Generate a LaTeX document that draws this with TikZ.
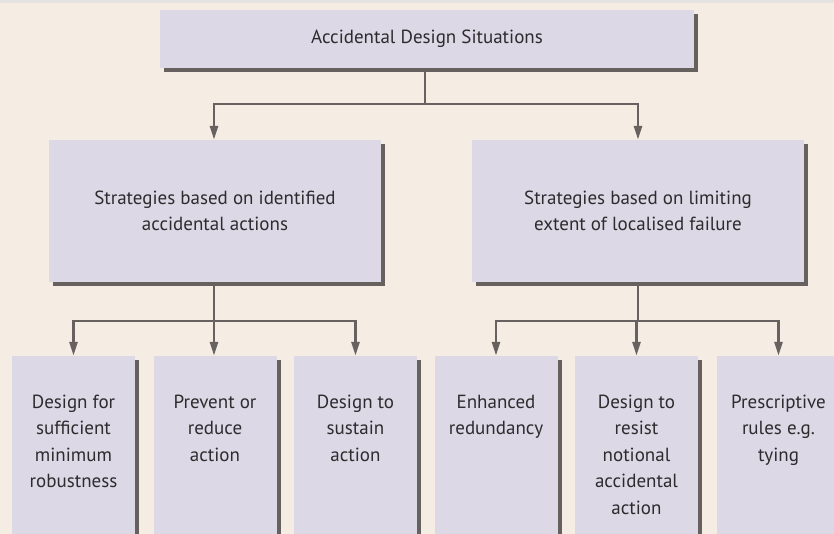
\documentclass[tikz,border=0pt]{standalone}
\usepackage{fontspec}
\setmainfont{PT Sans}
\usepackage{tikz}
\usetikzlibrary{positioning,arrows.meta,shadows}
\definecolor{bgbeige}{HTML}{F5EDE4}
\definecolor{topgrey}{HTML}{E4E3E2}
\definecolor{boxlilac}{HTML}{DCD8E5}
\definecolor{shadowgrey}{HTML}{66615F}
\definecolor{linegrey}{HTML}{67625F}
\definecolor{textgrey}{HTML}{2E2B2E}

\begin{document}
\begin{tikzpicture}[x=1pt,y=-1pt,
  box/.style={fill=boxlilac, draw=none, text=textgrey, inner sep=0pt,
    drop shadow={shadow xshift=4pt, shadow yshift=-4pt, fill=shadowgrey, opacity=1}},
  topbox/.style={box, minimum width=534pt, minimum height=58pt},
  midbox/.style={box, minimum width=332pt, minimum height=142pt, align=center},
  lowbox/.style={box, minimum width=123pt, minimum height=210pt},
  lowtext/.style={align=center, text=textgrey, anchor=north, inner sep=0pt},
  link/.style={draw=linegrey, line width=2.6pt},
  arrow/.style={link, -{Triangle[length=14pt,width=8pt]}},
  font=\fontsize{19}{26.5}\selectfont]
\useasboundingbox (0,0) rectangle (834,534);
\clip (0,0) rectangle (834,534);
\fill[bgbeige] (0,0) rectangle (834,534);
\fill[topgrey] (0,0) rectangle (834,3);

% boxes
\node[topbox] (node_top) at (427,39) {Accidental Design Situations};
\node[midbox] (node_left) at (215,211) {Strategies based on identified\\ accidental actions};
\node[midbox] (node_right) at (638,211) {Strategies based on limiting\\ extent of localised failure};

\node[lowbox] (low_a) at (73.5,461) {};
\node[lowbox] (low_b) at (215,461) {};
\node[lowbox] (low_c) at (355.5,461) {};
\node[lowbox] (low_d) at (496,461) {};
\node[lowbox] (low_e) at (636.5,461) {};
\node[lowbox] (low_f) at (778.5,461) {};

\node[lowtext] at ([yshift=-39pt]low_a.north) {Design for\\ sufficient\\ minimum\\ robustness};
\node[lowtext] at ([yshift=-39pt]low_b.north) {Prevent or\\ reduce\\ action};
\node[lowtext] at ([yshift=-39pt]low_c.north) {Design to\\ sustain\\ action};
\node[lowtext] at ([yshift=-39pt]low_d.north) {Enhanced\\ redundancy};
\node[lowtext] at ([yshift=-39pt]low_e.north) {Design to\\ resist\\ notional\\ accidental\\ action};
\node[lowtext] at ([yshift=-39pt]low_f.north) {Prescriptive\\ rules e.g.\\ tying};

% connectors
\coordinate (split_top) at (425,104);
\coordinate (split_left) at (214,321);
\coordinate (split_right) at (638,321);

\draw[link] ([yshift=-4pt]node_top.south -| split_top) -- (split_top);
\draw[arrow] (split_top) -| ([xshift=-1pt]node_left.north);
\draw[arrow] (split_top) -| (node_right.north);

\draw[link] ([yshift=-4pt]node_left.south -| split_left) -- (split_left);
\draw[arrow] (split_left) -| (low_a.north);
\draw[arrow] (split_left) -| ([xshift=-1pt]low_b.north);
\draw[arrow] (split_left) -| (low_c.north);

\draw[link] ([yshift=-4pt]node_right.south -| split_right) -- (split_right);
\draw[arrow] (split_right) -| (low_d.north);
\draw[arrow] (split_right) -| (low_e.north);
\draw[arrow] (split_right) -| (low_f.north);
\end{tikzpicture}
\end{document}
